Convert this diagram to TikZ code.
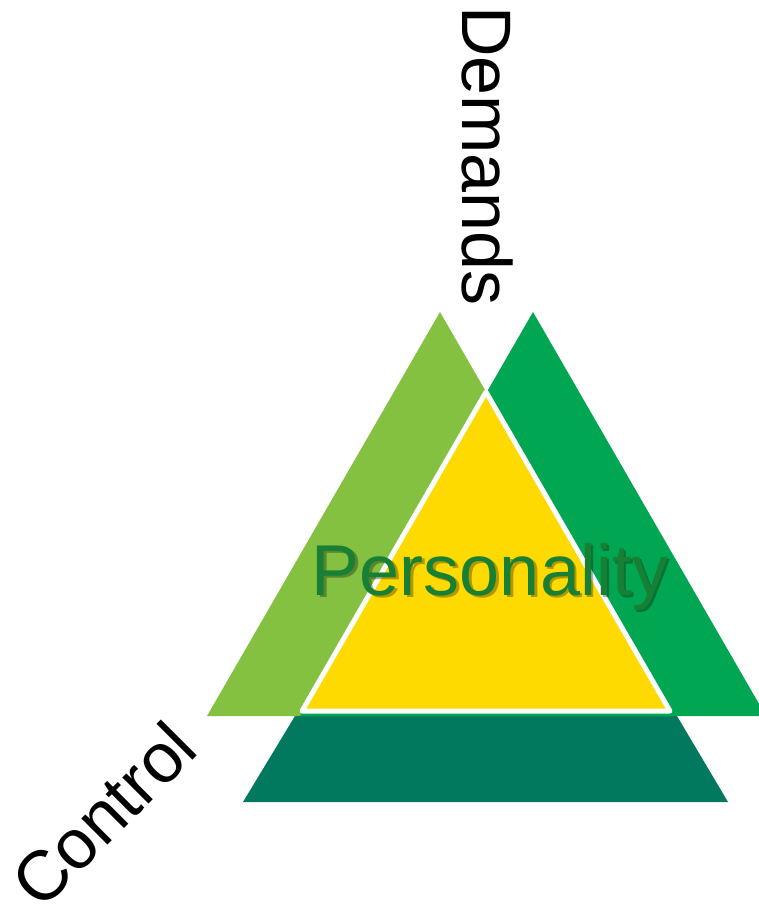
\documentclass[tikz,border=0pt]{standalone}
\usepackage{fontspec}
\setmainfont{Liberation Sans}
\usetikzlibrary{positioning}
\definecolor{leafgreen}{RGB}{133,193,65}
\definecolor{midgreen}{RGB}{0,166,81}
\definecolor{deepgreen}{RGB}{0,121,94}
\definecolor{sunyellow}{RGB}{255,218,0}
\definecolor{textgreen}{RGB}{24,128,52}

\begin{document}
\begin{tikzpicture}[x=1pt, y=-1pt,
    axistext/.style={font=\fontsize{70}{80}\selectfont, inner sep=0pt},
    coretext/.style={font=\fontsize{72}{80}\selectfont, inner sep=0pt, text=textgreen},
    coreshadow/.style={font=\fontsize{72}{80}\selectfont, inner sep=0pt, text=black, opacity=0.3}]
    \useasboundingbox (0,0) rectangle (759,908);
    \clip (0,0) rectangle (759,908);

    % base block (control)
    \fill[deepgreen] (243,802) -- (728,802) -- (677,716) -- (295,716) -- cycle;
    % side triangles
    \fill[leafgreen] (207,716) -- (440,312) -- (673,716) -- cycle;
    \fill[midgreen] (300,716) -- (533,312) -- (766,716) -- cycle;
    % core triangle
    \filldraw[fill=sunyellow, draw=white, line width=5pt, line join=round]
        (302,711) -- (486,392) -- (670,711) -- cycle;

    % texts
    \node[coreshadow, anchor=base] (persshadow) at (492.5,597.5) {Personality};
    \node[coretext, anchor=base] (personality) at (490,595) {Personality};
    \node[axistext, rotate=-90, anchor=base] (demands) at (462,156) {Demands};
    \node[axistext, rotate=45, anchor=base] (control) at (121,832) {Control};
\end{tikzpicture}
\end{document}
